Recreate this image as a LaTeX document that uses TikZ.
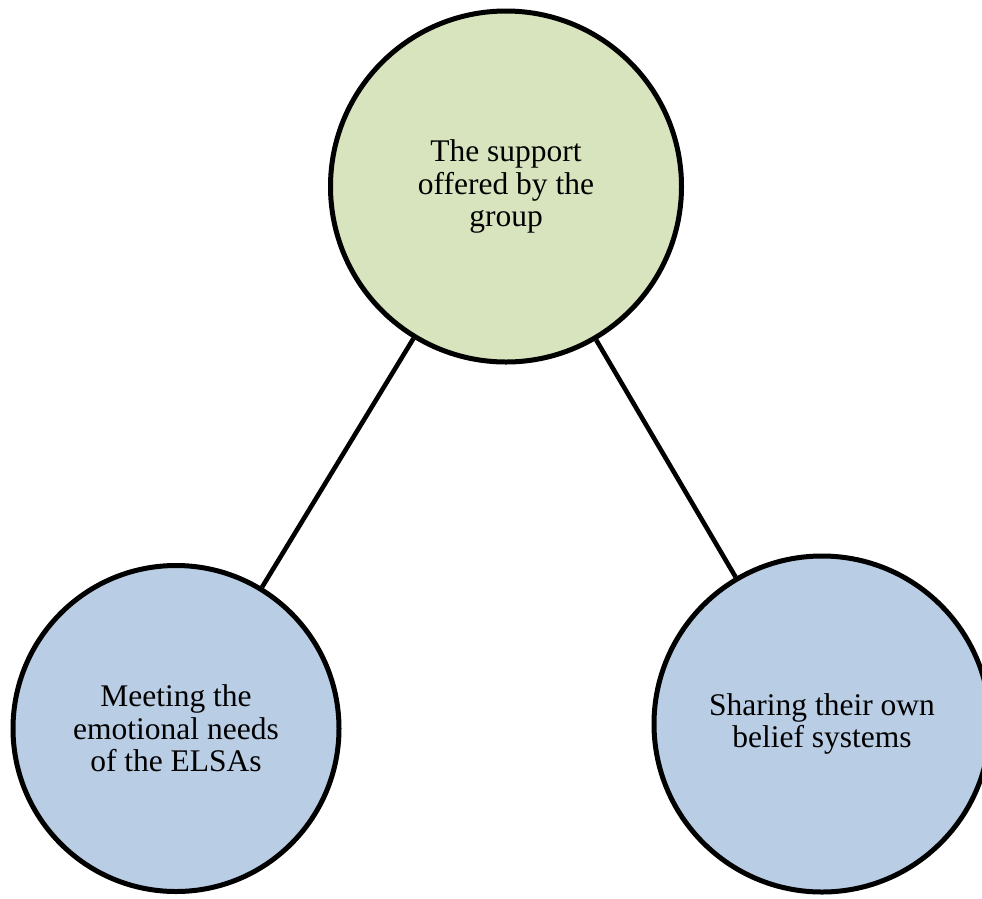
\documentclass[tikz,border=0pt]{standalone}
\usepackage{fontspec}
\setmainfont{Liberation Serif}
\definecolor{themegreen}{HTML}{D7E4BD}
\definecolor{themeblue}{HTML}{B9CDE5}
\begin{document}
\begin{tikzpicture}[x=1pt,y=-1pt,
  bubble/.style={circle,draw=black,line width=5pt,align=center,inner sep=0pt,
    font=\fontsize{31.5}{32.3}\selectfont},
  link/.style={draw=black,line width=4.6pt}]
  \useasboundingbox (0,0) rectangle (982,898);
  \node[bubble,fill=themegreen,minimum size=351pt] (top) at (506,186.5)
    {The support\\offered by the\\group};
  \node[bubble,fill=themeblue,minimum size=326pt] (left) at (176,728.5)
    {Meeting the\\emotional needs\\of the ELSAs};
  \node[bubble,fill=themeblue,minimum size=336pt] (right) at (822,724)
    {Sharing their own\\belief systems};
  \draw[link] (top) -- (left);
  \draw[link] (top) -- (right);
\end{tikzpicture}
\end{document}
